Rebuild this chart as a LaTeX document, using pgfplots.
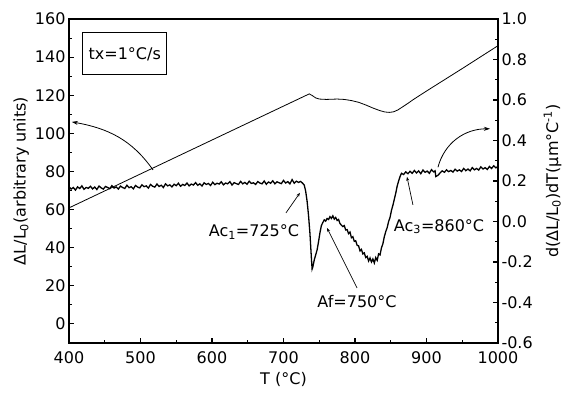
\documentclass[border=0pt]{standalone}
\usepackage{fontspec}
\setmainfont{DejaVu Sans}
\usepackage{pgfplots}
\pgfplotsset{compat=1.18}
\usetikzlibrary{arrows.meta}
\newcommand{\tfont}{\fontsize{16}{16}\selectfont}
\newcommand{\lfont}{\fontsize{16}{16}\selectfont}
\begin{document}
\begin{tikzpicture}
\pgfplotsset{
  every axis/.append style={
    scale only axis, width=429pt, height=324pt,
    xmin=400, xmax=1000,
    tick align=inside,
    major tick length=5pt, minor tick length=3pt,
    axis line style={line width=1.1pt},
    every tick/.style={line width=1.1pt, black},
    tick label style={font=\tfont},
    label style={font=\lfont},
    /pgf/number format/assume math mode=true,
    /pgf/number format/1000 sep={},
  }
}
\begin{axis}[name=ax,
  ymin=-10, ymax=160,
  xtick={400,500,...,1000}, minor x tick num=1,
  ytick={0,20,...,160}, minor y tick num=1,
  xtick pos=left, ytick pos=left,
  xticklabel style={yshift=-5pt},
  xlabel={T (°C)},
  ylabel={ΔL/L\textsubscript{0}(arbitrary units)},
  xlabel style={yshift=-2pt},
  ylabel style={yshift=-1pt},
]
\addplot[black, line width=0.8pt] coordinates {
(400,60.9) (500,78.7) (600,96.5) (700,114.3) (736,120.7) (740,119.9) (745,118.6) (750,118.0) (760,117.8) (775,118.0) (785,117.8) (795,117.2) (805,116.3) (815,114.9) (825,113.3) (835,111.9) (842,111.2) (848,111.0) (854,111.3) (860,112.3) (867,114.0) (875,116.0) (881,117.6) (900,122.2) (950,134.0) (1000,146.0)
};
\node[draw, line width=0.8pt, minimum width=84pt, minimum height=42pt, font=\lfont, inner sep=0pt] at (axis cs:478,141.7) {tx=1°C/s};
\draw[line width=0.8pt, -{Stealth[length=6pt,width=4pt]}] (axis cs:517.5,80.8) to[out=125,in=-10] (axis cs:404,106);
\draw[line width=0.8pt, -{Stealth[length=6pt,width=4pt]}] (axis cs:916,82.2) to[out=75,in=180] (axis cs:988.8,102.4);
\node[font=\lfont] at (axis cs:658.7,48.3) {Ac\textsubscript{1}=725°C};
\draw[line width=0.7pt, -{Stealth[length=4pt,width=3pt]}] (axis cs:703.5,58.3) -- (axis cs:723,68.8);
\node[font=\lfont] at (axis cs:802.8,11.5) {Af=750°C};
\draw[line width=0.7pt, -{Stealth[length=4pt,width=3pt]}] (axis cs:802.8,18.9) -- (axis cs:760.8,50.4);
\node[font=\lfont] at (axis cs:917.5,51) {Ac\textsubscript{3}=860°C};
\draw[line width=0.7pt, -{Stealth[length=4pt,width=3pt]}] (axis cs:881,62.5) -- (axis cs:872.7,77.2);
\end{axis}
\begin{axis}[
  ymin=-0.6, ymax=1.0,
  axis y line*=right, axis x line=none,
  ytick={-0.6,-0.4,-0.2,0,0.2,0.4,0.6,0.8,1.0}, minor y tick num=1,
  yticklabel style={/pgf/number format/.cd, fixed, fixed zerofill, precision=1},
  ylabel={d(ΔL/L\textsubscript{0})dT(μm°C\textsuperscript{-1})},
  ylabel style={yshift=-4pt},
]
\addplot[black, line width=1.3pt] coordinates {
(400,0.172) (403,0.160) (406,0.168) (409,0.155) (412,0.171) (415,0.163) (418,0.176) (421,0.159) (424,0.168) (427,0.164)
(430,0.174) (433,0.161) (436,0.170) (439,0.158) (442,0.175) (445,0.166) (448,0.160) (451,0.173) (454,0.168) (457,0.162)
(460,0.177) (463,0.165) (466,0.171) (469,0.160) (472,0.175) (475,0.168) (478,0.163) (481,0.179) (484,0.167) (487,0.172)
(490,0.161) (493,0.178) (496,0.170) (499,0.166) (502,0.181) (505,0.172) (508,0.176) (511,0.165) (514,0.183) (517,0.174)
(520,0.170) (523,0.185) (526,0.173) (529,0.179) (532,0.168) (535,0.186) (538,0.176) (541,0.181) (544,0.171) (547,0.184)
(550,0.177) (553,0.189) (556,0.174) (559,0.183) (562,0.178) (565,0.190) (568,0.176) (571,0.185) (574,0.180) (577,0.192)
(580,0.179) (583,0.186) (586,0.175) (589,0.191) (592,0.183) (595,0.188) (598,0.178) (601,0.194) (604,0.182) (607,0.189)
(610,0.185) (613,0.196) (616,0.181) (619,0.190) (622,0.186) (625,0.197) (628,0.180) (631,0.192) (634,0.187) (637,0.183)
(640,0.198) (643,0.186) (646,0.193) (649,0.184) (652,0.199) (655,0.188) (658,0.191) (661,0.183) (664,0.197) (667,0.190)
(670,0.186) (673,0.200) (676,0.184) (679,0.195) (682,0.189) (685,0.201) (688,0.186) (691,0.196) (694,0.191) (697,0.187)
(700,0.203) (703,0.190) (706,0.197) (709,0.186) (712,0.207) (715,0.189) (718,0.199) (721,0.193) (724,0.198) (727,0.188)
(729,0.180) (731,0.150) (733,0.100) (735,0.030) (737,-0.060) (739,-0.180) (740,-0.235) (741,-0.225) (743,-0.190) (745,-0.165)
(747,-0.140) (749,-0.100) (751,-0.055) (753,-0.020) (755,-0.005) (757,0.008) (759,0.002) (761,0.015) (763,0.010) (765,0.024)
(767,0.015) (769,0.028) (771,0.012) (773,0.020) (775,0.005) (777,0.010) (779,-0.010) (781,-0.018) (783,-0.025) (785,-0.020)
(787,-0.042) (789,-0.040) (791,-0.060) (793,-0.052) (795,-0.080) (797,-0.075) (799,-0.098) (801,-0.095) (803,-0.118) (805,-0.120)
(807,-0.145) (809,-0.138) (811,-0.160) (813,-0.155) (815,-0.178) (817,-0.172) (819,-0.195) (821,-0.180) (823,-0.200) (825,-0.185)
(827,-0.205) (829,-0.178) (831,-0.192) (833,-0.160) (835,-0.165) (837,-0.130) (839,-0.110) (841,-0.075) (843,-0.050) (845,-0.030)
(847,0.000) (849,0.020) (851,0.055) (853,0.080) (855,0.110) (857,0.140) (859,0.175) (861,0.200) (863,0.222) (865,0.238)
(868,0.232) (871,0.245) (874,0.236) (877,0.248) (880,0.238) (883,0.252) (886,0.240) (889,0.250) (892,0.236) (895,0.254)
(898,0.243) (901,0.249) (904,0.238) (907,0.256) (910,0.245) (912,0.250) (913,0.222) (916,0.228) (919,0.240) (922,0.250)
(925,0.243) (928,0.255) (931,0.246) (934,0.252) (937,0.244) (940,0.258) (943,0.249) (946,0.255) (949,0.247) (952,0.262)
(955,0.251) (958,0.259) (961,0.250) (964,0.266) (967,0.255) (970,0.262) (973,0.254) (976,0.270) (979,0.259) (982,0.266)
(985,0.257) (988,0.272) (991,0.262) (994,0.275) (997,0.265) (1000,0.272)
};
\end{axis}
\pgfresetboundingbox
\path ([shift={(-69pt,-56pt)}]ax.south west) rectangle ([shift={(71pt,19pt)}]ax.north east);
\end{tikzpicture}
\end{document}
